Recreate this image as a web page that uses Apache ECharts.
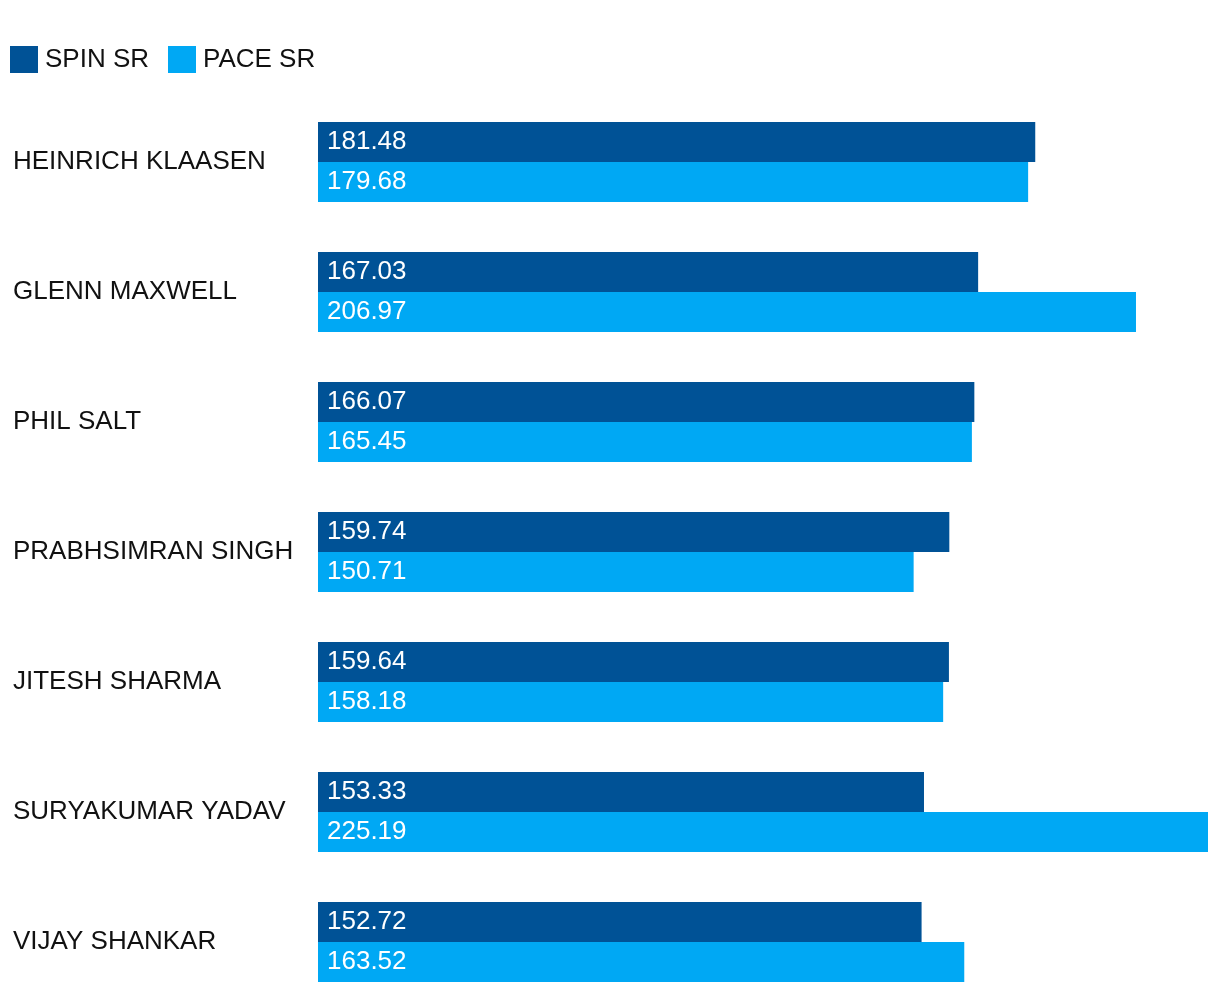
<!DOCTYPE html>
<html>
<head>
<meta charset="utf-8">
<script src="https://cdn.jsdelivr.net/npm/echarts@6/dist/echarts.min.js"></script>
<style>html,body{margin:0;padding:0;background:#fff}#c{width:1220px;height:992px}</style>
</head>
<body>
<div id="c"></div>
<script>
const players = ["HEINRICH KLAASEN","GLENN MAXWELL","PHIL SALT","PRABHSIMRAN SINGH","JITESH SHARMA","SURYAKUMAR YADAV","VIJAY SHANKAR"];
const spinSR = [181.48,167.03,166.07,159.74,159.64,153.33,152.72];
const paceSR = [179.68,206.97,165.45,150.71,158.18,225.19,163.52];
const seriesNames = ["SPIN SR","PACE SR"];

const chart = echarts.init(document.getElementById('c'));
const font = '"Liberation Sans", Arial, sans-serif';
const lbl = {show:true, position:'insideLeft', distance:9, color:'#fff', fontSize:26, fontFamily:font,
  formatter: p => p.value.toFixed(2)};
chart.setOption({
  animation:false,
  legend:{left:10, top:46, padding:0, icon:'rect', itemWidth:28, itemHeight:27, itemGap:19,
    textStyle:{fontSize:26, fontFamily:font, color:'#111', padding:[0,0,0,2]},
    data:seriesNames},
  grid:{left:318, right:12, top:97, height:910, containLabel:false, outerBoundsMode:'none'},
  xAxis:{type:'value', min:0, max:'dataMax', show:false},
  yAxis:{type:'category', data:players, inverse:true,
    axisLine:{show:false}, axisTick:{show:false}, splitLine:{show:false},
    axisLabel:{align:'left', margin:305, fontSize:26, fontFamily:font, color:'#111'}},
  series:[
    {name:seriesNames[0], type:'bar', data:spinSR, barWidth:40, barGap:'0%', itemStyle:{color:'#005296'}, label:lbl},
    {name:seriesNames[1], type:'bar', data:paceSR, barWidth:40, itemStyle:{color:'#00a8f4'}, label:lbl}
  ]
});
</script>
</body>
</html>
